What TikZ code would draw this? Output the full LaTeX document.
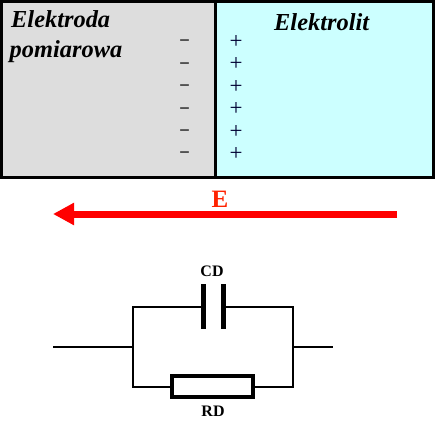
\documentclass[tikz,border=0pt]{standalone}
\usepackage{fontspec}
\setmainfont{Liberation Serif}
\usetikzlibrary{arrows.meta}
\definecolor{elgray}{HTML}{DDDDDD}
\definecolor{elcyan}{HTML}{CCFFFF}
\definecolor{plusblue}{HTML}{000033}
\definecolor{arrred}{HTML}{FF0000}
\definecolor{ered}{HTML}{FF2200}
\tikzset{
  panel/.style={draw=black,line width=3pt,minimum height=176pt,inner sep=0pt,outer sep=0pt,anchor=north west},
  heading/.style={font=\fontsize{24.4}{28}\selectfont\bfseries\itshape,inner sep=0pt,anchor=base west},
  chargem/.style={font=\fontsize{17}{18}\selectfont\bfseries,inner sep=0pt,text=black},
  chargep/.style={font=\fontsize{23}{24}\selectfont,inner sep=0pt,text=plusblue},
  wire/.style={draw=black,line width=2pt},
  plate/.style={fill=black,draw=none,minimum width=5pt,minimum height=45pt,inner sep=0pt,outer sep=0pt},
  resbox/.style={draw=black,line width=4.4pt,fill=white,minimum width=80.5pt,minimum height=20.5pt,inner sep=0pt,outer sep=2.2pt},
  complabel/.style={font=\fontsize{16}{18}\selectfont\bfseries,inner sep=0pt},
}
\begin{document}
\begin{tikzpicture}[x=1pt,y=-1pt]
\useasboundingbox (0,0) rectangle (435,422);
\node[panel,fill=elgray,minimum width=213.5pt] (elec) at (1.5,1.5) {};
\node[panel,fill=elcyan,minimum width=217.5pt] (soln) at (215.5,1.5) {};
\node[heading] (t1) at (11,28) {Elektroda};
\node[heading] (t2) at (9.5,58) {pomiarowa};
\node[heading] (t3) at (274,31) {Elektrolit};
\foreach \i/\yy in {1/42.5,2/65,3/87.5,4/110,5/132.5,6/154.5}{
  \node[chargem] (m\i) at (184.5,\yy) {–};
}
\foreach \i/\yy in {1/42,2/64,3/87,4/109,5/132,6/154}{
  \node[chargep] (p\i) at (236,\yy) {+};
}
\coordinate (Estart) at (397,214);
\coordinate (Eend) at (53,214);
\draw[arrred,line width=7pt,-{Triangle[length=21pt,width=21pt]}] (Estart) -- (Eend);
\node[font=\fontsize{25}{28}\selectfont\bfseries,text=ered,inner sep=0pt,anchor=base] (E) at (220,207) {E};

\coordinate (inL) at (53,347);
\coordinate (jL) at (133,347);
\coordinate (jR) at (292.5,347);
\coordinate (outR) at (333,347);
\node[plate] (c1) at (203,306.5) {};
\node[plate] (c2) at (223,306.5) {};
\node[resbox] (R) at (212.5,386.5) {};
\draw[wire] (inL) -- (jL);
\draw[wire] (jR) -- (outR);
\draw[wire] (c1.west) -| (jL) |- (R.west);
\draw[wire] (c2.east) -| (jR) |- (R.east);
\node[complabel] (CD) at (212,271) {CD};
\node[complabel] (RD) at (213,411) {RD};
\end{tikzpicture}
\end{document}
